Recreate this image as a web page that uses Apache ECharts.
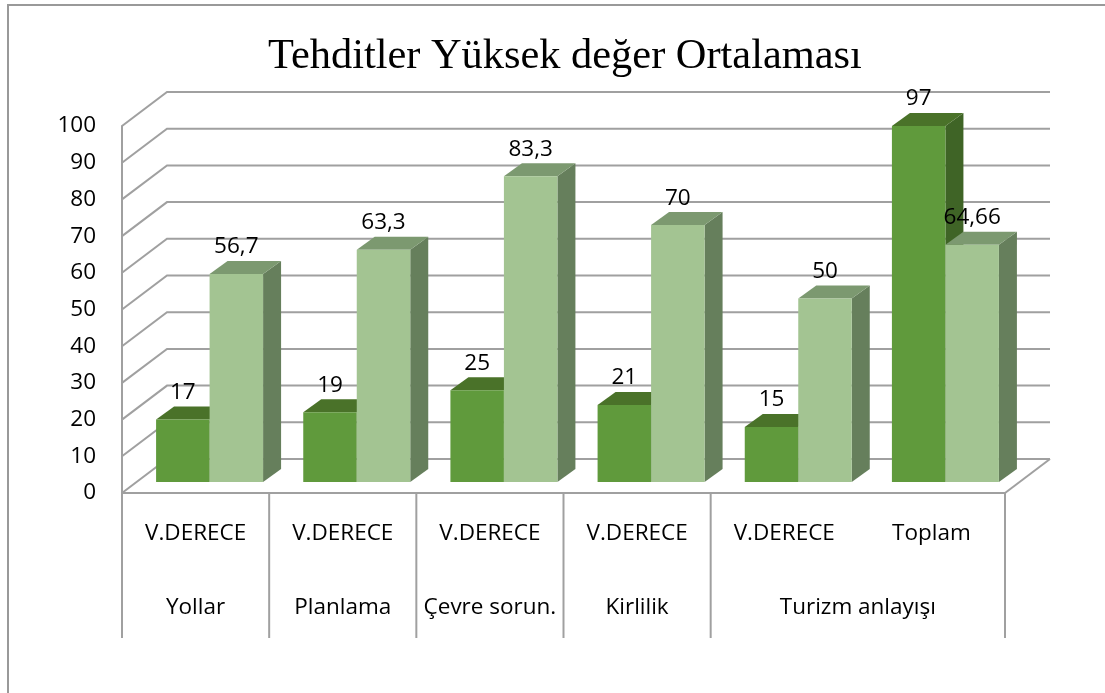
<!DOCTYPE html>
<html>
<head>
<meta charset="utf-8">
<style>
    html, body { margin: 0; padding: 0; background: #fff; }
    #chart { width: 1105px; height: 693px; }
</style>
<script src="https://cdn.jsdelivr.net/npm/echarts@6/dist/echarts.min.js"></script>
</head>
<body>
<div id="chart"></div>
<script>
    const categories = ['V.DERECE', 'V.DERECE', 'V.DERECE', 'V.DERECE', 'V.DERECE', 'Toplam']
    const darkValues = [17, 19, 25, 21, 15, 97]
    const lightValues = [56.7, 63.3, 83.3, 70, 50, 64.66]
    const yTicks = [0, 10, 20, 30, 40, 50, 60, 70, 80, 90, 100]
    const groupNames = ['Yollar', 'Planlama', 'Çevre sorun.', 'Kirlilik', 'Turizm anlayışı']
    const groupSpans = [1, 1, 1, 1, 2]

    const gridColor = '#a0a0a0'
    const fontName = 'Open Sans'
    const fontSize = 22.5
    const labelFont = fontSize + 'px "' + fontName + '"'
    const darkColors = { front: '#609a3c', top: '#4a7229', side: '#3f6426' }
    const lightColors = { front: '#a3c492', top: '#7c9970', side: '#667f5c' }

    // 3D look: shift of the back wall and of the bars on the floor, in px
    const wallDx = 45
    const wallDy = 34
    const floorLift = 11
    const sideDx = 18
    const sideDy = 13
    const barOffset = 14
    const barWidth = 53.5

    const chart = echarts.init(document.getElementById('chart'))

    // grid lines on the side and back walls
    function renderWall(params, api) {
        const rect = params.coordSys
        const y = api.coord([0, api.value(0)])[1]
        const left = rect.x
        const right = rect.x + rect.width
        const lineStyle = { stroke: gridColor, lineWidth: 2, fill: null }
        const children = [{
            type: 'polyline',
            shape: { points: [[left, y], [left + wallDx, y - wallDy], [right + wallDx, y - wallDy]] },
            style: lineStyle
        }]
        if (api.value(0) === 0) {
            children.push({
                type: 'line',
                shape: { x1: right, y1: y, x2: right + wallDx, y2: y - wallDy },
                style: lineStyle
            })
        }
        return { type: 'group', children: children }
    }

    function barRenderer(colors, side) {
        return function (params, api) {
            const idx = api.value(0)
            const val = api.value(1)
            const center = api.coord([idx, 0])[0] + barOffset
            const x0 = side === 0 ? center - barWidth : center
            const x1 = x0 + barWidth
            const bottom = api.coord([idx, 0])[1] - floorLift
            const top = api.coord([idx, val])[1] - floorLift
            return {
                type: 'group',
                children: [
                    {
                        type: 'polygon',
                        shape: { points: [[x1, top], [x1 + sideDx, top - sideDy], [x1 + sideDx, bottom - sideDy], [x1, bottom]] },
                        style: { fill: colors.side }
                    },
                    {
                        type: 'polygon',
                        shape: { points: [[x0, top], [x0 + sideDx, top - sideDy], [x1 + sideDx, top - sideDy], [x1, top]] },
                        style: { fill: colors.top }
                    },
                    {
                        type: 'rect',
                        shape: { x: x0, y: top, width: barWidth, height: bottom - top },
                        style: { fill: colors.front }
                    },
                    {
                        type: 'text',
                        style: {
                            x: (x0 + x1) / 2,
                            y: top - 27,
                            text: String(val).replace('.', ','),
                            fill: '#000',
                            font: labelFont,
                            align: 'center',
                            verticalAlign: 'middle'
                        }
                    }
                ]
            }
        }
    }

    // second level of the category axis, and the separators
    function renderGroups(params, api) {
        const rect = params.coordSys
        const band = rect.width / categories.length
        const start = api.value(0)
        const span = api.value(1)
        const axisY = rect.y + rect.height
        const x0 = rect.x + start * band
        const x1 = x0 + span * band
        const sepStyle = { stroke: gridColor, lineWidth: 2 }
        const children = [
            { type: 'line', shape: { x1: x0, y1: axisY, x2: x0, y2: axisY + 145 }, style: sepStyle },
            {
                type: 'text',
                style: {
                    x: (x0 + x1) / 2,
                    y: axisY + 115,
                    text: groupNames[params.dataIndex],
                    fill: '#000',
                    font: labelFont,
                    align: 'center',
                    verticalAlign: 'middle'
                }
            }
        ]
        if (params.dataIndex === groupNames.length - 1) {
            children.push({ type: 'line', shape: { x1: x1, y1: axisY, x2: x1, y2: axisY + 145 }, style: sepStyle })
        }
        return { type: 'group', children: children }
    }

    let groupStart = 0
    const groupData = groupSpans.map(function (span) {
        const row = [groupStart, span]
        groupStart += span
        return row
    })

    const option = {
        backgroundColor: '#fff',
        animation: false,
        title: {
            text: 'Tehditler Yüksek değer Ortalaması',
            left: 263,
            top: 31,
            textStyle: { fontFamily: 'Liberation Serif', fontSize: 42.4, fontWeight: 'normal', color: '#000' }
        },
        graphic: [
            {
                type: 'polyline',
                shape: { points: [[8, 693], [8, 5], [1105, 5]] },
                style: { stroke: '#999', lineWidth: 2, fill: null }
            }
        ],
        grid: { left: 122, right: 100, top: 126, bottom: 200 },
        xAxis: {
            type: 'category',
            data: categories,
            axisLine: { show: true, lineStyle: { color: gridColor, width: 2 } },
            axisTick: { show: false },
            axisLabel: { interval: 0, margin: 29, color: '#000', fontFamily: fontName, fontSize: fontSize },
            splitLine: { show: false }
        },
        yAxis: {
            type: 'value',
            min: 0,
            max: 100,
            interval: 10,
            axisLine: { show: true, lineStyle: { color: gridColor, width: 2 } },
            axisTick: { show: false },
            axisLabel: { margin: 26, color: '#000', fontFamily: fontName, fontSize: fontSize },
            splitLine: { show: false }
        },
        series: [
            { type: 'custom', silent: true, renderItem: renderWall, data: yTicks.map(function (v) { return [v] }) },
            { type: 'custom', silent: true, renderItem: renderGroups, data: groupData },
            {
                type: 'custom',
                silent: true,
                renderItem: barRenderer(darkColors, 0),
                data: darkValues.map(function (v, i) { return [i, v] })
            },
            {
                type: 'custom',
                silent: true,
                renderItem: barRenderer(lightColors, 1),
                data: lightValues.map(function (v, i) { return [i, v] })
            }
        ]
    }
    chart.setOption(option)
</script>
</body>
</html>
